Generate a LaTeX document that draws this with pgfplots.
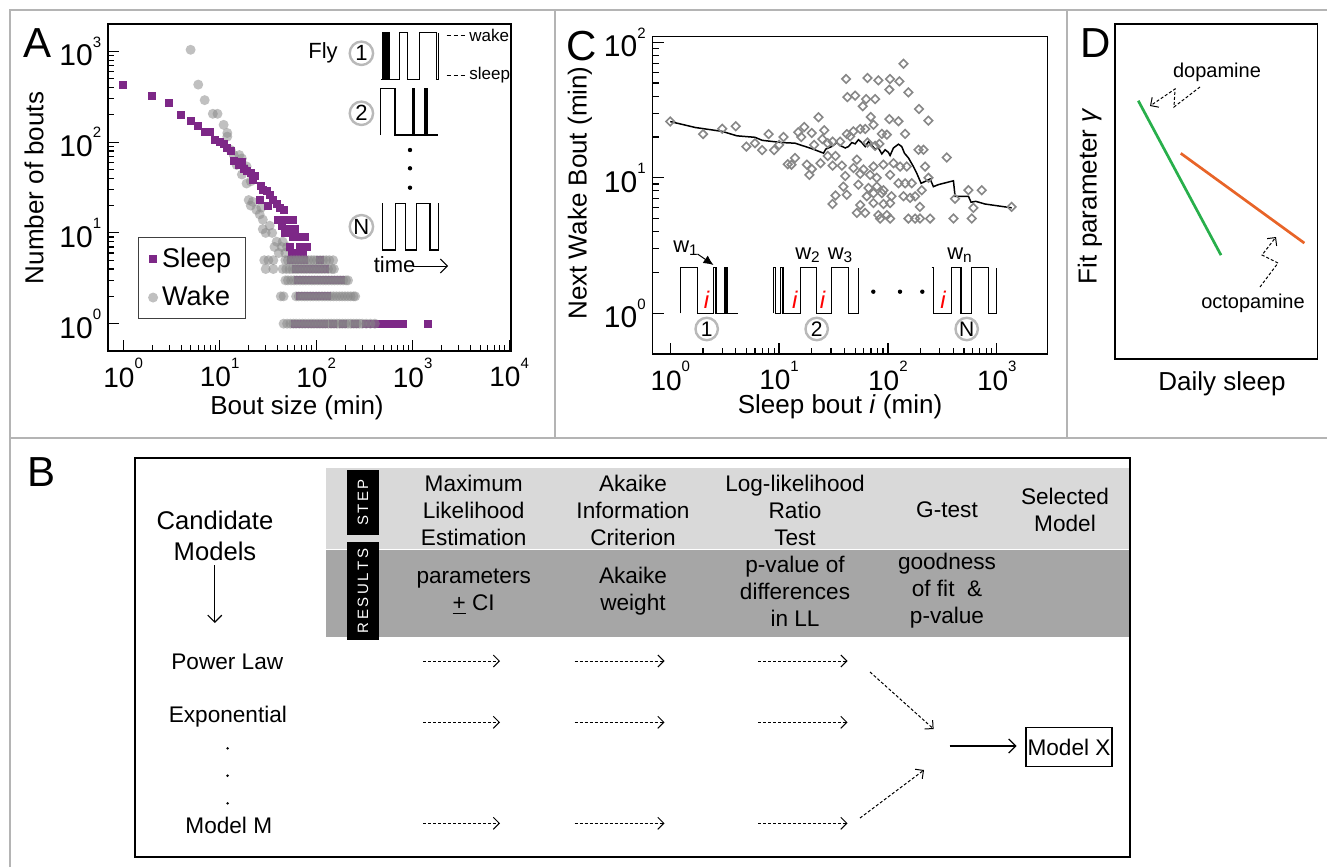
\documentclass[border=0pt]{standalone}
\usepackage{fontspec}
\setmainfont{Liberation Sans}
\usepackage{pgfplots}
\pgfplotsset{compat=1.18}
\usetikzlibrary{arrows.meta}

\definecolor{sleepc}{RGB}{125,40,135}
\definecolor{wakec}{RGB}{135,135,135}
\definecolor{diam}{RGB}{135,135,135}
\definecolor{framec}{RGB}{180,180,180}
\definecolor{ring}{RGB}{185,185,185}
\definecolor{bandL}{RGB}{217,217,217}
\definecolor{bandD}{RGB}{166,166,166}
\definecolor{dopa}{RGB}{40,175,75}
\definecolor{octo}{RGB}{232,100,40}

\newcommand{\fs}[1]{\fontsize{#1}{#1}\selectfont}
\newcommand{\tp}[1]{10\raisebox{9.3pt}{\fs{7.5}#1}}

\pgfplotsset{
  logpanel/.style={
    scale only axis, anchor=south west,
    axis line style={line width=0.7pt},
    tick align=inside, xtick pos=left, ytick pos=left,
    major tick length=5.5pt, minor tick length=3pt,
    tick style={black, line width=0.6pt},
    xticklabel style={font=\fs{14}},
    yticklabel style={font=\fs{15}},
  },
  wakeplot/.style={only marks, color=wakec, mark=*, mark size=2.5pt,
    mark options={draw opacity=0, fill=wakec, fill opacity=0.52}},
}

\tikzset{
  dar/.style={dash pattern=on 1.5pt off 1pt, line width=0.5pt, -{Straight Barb[length=3pt,width=6pt]}},
  trace/.style={line width=0.6pt, line join=miter},
}

\begin{document}
\begin{tikzpicture}
\useasboundingbox (0,0) rectangle (663.5pt,-433.5pt);

% ---------- panel A ----------
\begin{loglogaxis}[logpanel, at={(54.1pt,-175.5pt)}, width=201.3pt, height=163.5pt,
  xmin=0.7, xmax=10400, ymin=0.5, ymax=2000,
  xtick={1,10,100,1000,10000}, xticklabels={\tp{0},\tp{1},\tp{2},\tp{3},\tp{4}},
  ytick={1,10,100,1000}, yticklabels={\tp{0},\tp{1},\tp{2},\tp{3}},
  legend style={at={(0.073,0.348)}, anchor=north west, font=\fs{13.5},
    draw=black!75, line width=0.5pt, inner xsep=5pt, inner ysep=3pt, row sep=4pt},
  legend cell align=left,
]
% wake, upper part (under the sleep squares)
\addplot[wakeplot, forget plot] coordinates {
 (5,1040) (6,430) (7,290) (8.5,205) (9.5,205) (11,155) (12,126) (12,115) (13,82) (14,72)
 (16,72) (15,56) (17,66) (19,54) (17,44) (18,52) (21,37) (19,35) (20,23) (22,22)
 (21,20) (24,18) (26,16) (27,19) (28,11) (30,10) (28,14) (35,10) (33,12) (39,8)
 (37,7) (44,7) (41,6) (45,8) (48,6) (50,7)
};
\addplot[only marks, color=sleepc, mark=square*, mark size=2pt, mark options={draw opacity=0, fill=sleepc}] coordinates {
 (1,430) (2,320) (3,270) (4,200) (5,170) (6,150) (7,130) (8,128) (9,105) (10,101)
 (11,95) (12,86) (13,80) (14,62) (16,56) (17,60) (18,50) (19,48) (21,46) (22,38)
 (23,42) (26,23) (27,33) (28,30) (31,29) (32,20) (33,26) (36,23) (39,21) (40,14)
 (42,19) (44,12) (46,18) (47,14) (47,10) (51,11) (53,7) (56,6) (58,14) (58,9)
 (60,11) (63,6) (65,9) (68,7) (73,6) (76,9) (80,7)
 (55,5) (58,5) (62,5) (66,5) (70,5) (75,5) (109,5)
 (62,4) (66,4) (70,4) (75,4) (80,4) (86,4) (95,4) (105,4) (115,4) (123,4)
 (65,3) (70,3) (78,3) (85,3) (95,3) (105,3) (115,3) (130,3) (150,3) (181,3)
 (68,2) (75,2) (85,2) (95,2) (110,2) (130,2)
 (60,1) (66,1) (74,1) (80,1) (88,1) (100,1) (120,1) (150,1) (190,1) (250,1)
 (330,1) (390,1) (445,1) (540,1) (600,1) (680,1) (800,1) (1450,1)
};
\addlegendentry{Sleep}
\addplot[wakeplot] coordinates {
 (29,5) (32,5) (36,5) (48,5) (51,5) (55,5) (59,5) (63,5) (67,5) (72,5) (77,5) (83,5)
 (89,5) (95,5) (102,5) (110,5) (118,5) (127,5) (137,5) (150,5)
 (30,4) (36,4) (45,4) (49,4) (53,4) (57,4) (61,4) (65,4) (70,4) (75,4) (80,4) (86,4)
 (92,4) (99,4) (106,4) (114,4) (123,4) (133,4) (145,4) (153,4)
 (48,3) (51,3) (55,3) (59,3) (63,3) (68,3) (73,3) (78,3) (84,3) (90,3) (96,3) (103,3)
 (110,3) (118,3) (126,3) (135,3) (145,3) (155,3) (166,3) (178,3) (191,3) (204,3) (214,3)
 (43,2) (46,2) (62,2) (66,2) (71,2) (76,2) (81,2) (87,2) (93,2) (100,2) (107,2) (115,2)
 (123,2) (132,2) (141,2) (151,2) (162,2) (174,2) (186,2) (199,2) (213,2) (228,2) (244,2) (254,2)
 (46,1) (50,1) (54,1) (58,1) (62,1) (67,1) (72,1) (77,1) (83,1) (89,1) (95,1) (102,1)
 (109,1) (117,1) (125,1) (134,1) (143,1) (153,1) (164,1) (175,1) (187,1) (200,1) (214,1)
 (229,1) (245,1) (262,1) (280,1) (300,1) (330,1) (365,1) (406,1)
};
\addlegendentry{Wake}
\end{loglogaxis}

% ---------- panel C ----------
\begin{loglogaxis}[logpanel, at={(326.35pt,-177pt)}, width=197.5pt, height=158.65pt,
  xmin=0.69, xmax=2940, ymin=0.5, ymax=110,
  xtick={1,10,100,1000}, xticklabels={\tp{0},\tp{1},\tp{2},\tp{3}},
  ytick={1,10,100}, yticklabels={\tp{0},\tp{1},\tp{2}},
]
\addplot[only marks, color=diam, mark=square, mark size=1.5pt, mark options={draw=diam, line width=0.8pt, rotate=45}] coordinates {
 (1,26) (2,21) (3,23) (4,24) (5,17) (6,18) (7,16) (8,21) (9,16) (11,20)
 (10,17.5) (12,12.6) (13,12.5) (14,14) (15,21.7) (16,20) (17,23.7) (18,12.5) (19,10.5) (20,21.4)
 (21,17.5) (20,11.6) (23,28) (24,12.8) (26,22.4) (25,19.3) (28,18) (28,14.5) (31,12.3) (31,18.5)
 (33,14.5) (33,7.4) (31,6.4) (42,21)
 (139,69.5) (41.3,53.6) (64.9,54.5) (81.8,52.4) (104.7,53.6) (127.6,51.5) (103,44.7) (154.3,42.7)
 (42.5,39.4) (50,40.4) (63.1,38.1) (76.3,38.1) (58.8,33.7) (193,32.2) (69.7,28.1) (103,27.1)
 (125,26.1) (235.5,26.4) (73.7,24.6) (48.2,22) (55.6,22.9) (61.8,22.9) (87.9,21.1) (97.7,20.8)
 (143.9,21.1) (45,20.2) (36.4,18.5) (64.9,18.2) (83.6,17.8) (76.3,17.2) (190.7,16.1) (212,16.1)
 (347.5,14.1) (51.8,13.6) (37.7,12.3) (48.2,11.8) (59.6,11.5) (73.7,12.1) (91,12.5) (112.4,12.8)
 (129.4,12.1) (149,12.1) (219.5,12.1) (40.5,10.3) (55.6,10.7) (68.7,10.5) (79.1,10) (104.7,10.5)
 (235.5,10) (39,8.6) (53.6,8.9) (66.3,8.4) (79.1,8.6) (91,8.1) (125,9.1) (143.9,9.1)
 (165.6,9.1) (41.9,7.5) (64,7.3) (73.7,7.7) (87.9,7.7) (108,7.3) (139,7.3) (160,7.1)
 (177.8,7.3) (204.5,8.1) (549.5,8.1) (727.8,8.1) (414,7) (55.6,6.3) (73.7,6.5) (91,6.4)
 (104.7,6.5) (197,6.1) (610,6) (1371,6.1) (51.8,5.5) (61.8,5.5) (81.8,5.3) (97.7,5.3)
 (154.3,5) (177.8,5) (197,5) (244,5) (400,5) (589,5) (84.8,5) (104.7,5)
};
\addplot[black, line width=0.75pt] coordinates {
 (1,26) (1.7,23.5) (3,22) (4.1,20.4) (6,19.9) (7,18.9) (10.6,18.2) (14,18) (20,16.4)
 (25.6,15.2) (26.9,16.3) (30.5,17) (33.9,18.2) (36.4,17.3) (40.5,16.6) (43.4,17) (46.6,18.2)
 (50,17.8) (53.6,19.1) (57.5,18.2) (61.8,17) (66.3,18.5) (71.1,17.3) (76.3,16.3) (81.8,16.6)
 (87.9,15) (94.3,16.1) (101,15.4) (104.7,14.6) (112.4,16.6) (125,17.7) (134,17) (141.8,15.2)
 (154.5,14) (171.5,12.1) (184,10.8) (201.8,9.1) (219.8,9.4) (244.3,9.8) (261.8,8.6) (291,8.9)
 (323.6,9.1) (400,9.5) (414,7.3) (460,7.3) (549.5,7.3) (580.8,6.6) (641,6.7) (781,6.4) (1371,6.0)
};
\end{loglogaxis}

% ---------- panel D ----------
\begin{axis}[scale only axis, anchor=south west, at={(557.5pt,-179.5pt)}, width=101.15pt, height=167.5pt,
  xmin=0, xmax=1, ymin=0, ymax=1, xtick=\empty, ytick=\empty,
  axis line style={line width=0.7pt}]
\addplot[dopa, line width=1.35pt] coordinates {(0.115,0.771) (0.524,0.310)};
\addplot[octo, line width=1.35pt] coordinates {(0.325,0.614) (0.936,0.346)};
\end{axis}

\begin{scope}[x=0.5pt,y=-0.5pt]
% frame lines
\draw[framec, line width=1pt] (10,867) -- (10,10) -- (1327,10);
\draw[framec, line width=1pt] (555,10) -- (555,438);
\draw[framec, line width=1pt] (1067,10) -- (1067,438);
\draw[framec, line width=1pt] (10,438) -- (1327,438);

% panel letters
\node[font=\fs{21}] at (37.5,43) {A};
\node[font=\fs{21}] at (581.7,46) {C};
\node[font=\fs{21}] at (1096,43) {D};
\node[font=\fs{21}] at (42,472) {B};

% axis labels
\node[rotate=90, font=\fs{13}] at (34,188) {Number of bouts};
\node[font=\fs{13}] at (297,408) {Bout size (min)};
\node[rotate=90, font=\fs{13}] at (580,193) {Next Wake Bout (min)};
\node[font=\fs{13}] at (840,407) {Sleep bout \textit{i} (min)};
\node[rotate=90, font=\fs{13}] at (1090,196) {Fit parameter \textit{γ}};
\node[font=\fs{13}] at (1222,384) {Daily sleep};

% panel D notes
\node[font=\fs{10}] at (1217,72) {dopamine};
\node[font=\fs{10}] at (1253,303) {octopamine};
\draw[dar] (1200,87) -- (1174,107) -- (1175,89) -- (1150,106);
\draw[dar] (1260,287) -- (1278,263) -- (1262,255) -- (1276,237);

% panel A inset
\node[font=\fs{11}] at (323,53.3) {Fly};
\foreach \yy/\lab in {53.3/1, 113.3/2, 226.7/N} {
  \draw[ring, line width=1.2pt] (361.4,\yy) circle[radius=11.7];
  \node[font=\fs{11}] at (361.4,\yy) {\lab};
}
\draw[trace] (381,79.3) -- (382.5,79.3) -- (382.5,32.7) -- (383.7,32.7) -- (383.7,79.3) -- (385,79.3) -- (385,32.7) -- (386.2,32.7) -- (386.2,79.3) -- (388,79.3) -- (388,32.7) -- (389.2,32.7) -- (389.2,79.3) -- (399.3,79.3) -- (399.3,32.7) -- (407.1,32.7) -- (407.1,79.3) -- (419.6,79.3) -- (419.6,32.7) -- (436.4,32.7) -- (436.4,79.3) -- (438.3,79.3) -- (438.3,32.7);
\draw[trace] (380.7,135) -- (380.7,88.3) -- (395,88.3) -- (395,135) -- (413,135) -- (413,88.3) -- (414.3,88.3) -- (414.3,135) -- (425,135) -- (425,88.3) -- (427,88.3) -- (427,135) -- (438.3,135);
\draw[trace] (382.7,203.3) -- (382.7,250) -- (395.7,250) -- (395.7,203.3) -- (405.7,203.3) -- (405.7,250) -- (416.7,250) -- (416.7,203.3) -- (430,203.3) -- (430,250) -- (438.3,250) -- (438.3,203.3);
\draw[dash pattern=on 2pt off 1.5pt, line width=0.5pt] (446.7,35) -- (467,35);
\node[font=\fs{8.5}, anchor=west, inner sep=1pt] at (467,35) {wake};
\draw[dash pattern=on 2pt off 1.5pt, line width=0.5pt] (446.7,75) -- (467,75);
\node[font=\fs{8.5}, anchor=west, inner sep=1pt] at (467,75) {sleep};
\foreach \yy in {150,168.3,187.7} \fill (410,\yy) circle[radius=2.2];
\node[font=\fs{11}] at (394.6,265) {time};
\draw[line width=0.5pt, -{Straight Barb[length=3.5pt,width=7pt]}] (413,266) -- (448,266);

% panel C inset
\draw[trace] (680.7,313.3) -- (680.7,267.7) -- (697.5,267.7) -- (697.5,313.3) -- (713.5,313.3) -- (713.5,267.7) -- (716,267.7) -- (716,313.3) -- (725,313.3) -- (725,267.7) -- (727,267.7) -- (727,313.3) -- (738,313.3);
\draw[trace] (773.3,313.3) -- (773.3,267.7) -- (775.3,267.7) -- (775.3,313.3) -- (780.5,313.3) -- (780.5,267.7) -- (783,267.7) -- (783,313.3) -- (800.7,313.3) -- (800.7,267.7) -- (816.7,267.7) -- (816.7,313.3) -- (831.7,313.3) -- (831.7,267.7) -- (848.3,267.7) -- (848.3,313.3) -- (858.3,313.3) -- (858.3,267.7);
\draw[trace] (931.7,267.7) -- (933.3,267.7) -- (933.3,313.3) -- (951.7,313.3) -- (951.7,267.7) -- (961,267.7) -- (961,313.3) -- (971.7,313.3) -- (971.7,267.7) -- (988.3,267.7) -- (988.3,313.3) -- (996.7,313.3) -- (996.7,267.7);
\foreach \xx in {706.7,795,822.7,943.3} \node[font=\fs{12}, text=red] at (\xx,300) {\textit{i}};
\foreach \xx/\lab in {706.7/1, 816.7/2, 966.7/N} {
  \draw[ring, line width=1.2pt] (\xx,329) circle[radius=11.2];
  \node[font=\fs{10.5}] at (\xx,329) {\lab};
}
\node[font=\fs{11}] at (686,248) {w\textsubscript{1}};
\draw[line width=0.5pt, -{Latex[length=5pt,width=4.5pt]}] (697.5,254) -- (713.5,265);
\node[font=\fs{11}] at (808,255) {w\textsubscript{2}};
\node[font=\fs{11}] at (840.5,255) {w\textsubscript{3}};
\node[font=\fs{11}] at (960,255) {w\textsubscript{n}};
\foreach \xx in {873.3,900,922.3} \fill (\xx,291.7) circle[radius=2.2];

% ---------- panel B ----------
\draw[line width=0.7pt] (135,458) rectangle (1130,857);
\fill[bandL] (326,468) rectangle (1129,548.5);
\fill[bandD] (326,550) rectangle (1129,637);
\fill[black] (347,470) rectangle (379,535);
\fill[black] (347,542) rectangle (379,640);
\node[rotate=90, text=white, font=\fs{7.5}] at (363,502.5) {S\,T\,E\,P};
\node[rotate=90, text=white, font=\fs{7.5}] at (363,591) {R\,E\,S\,U\,L\,T\,S};
\begin{scope}[every node/.style={align=center, font=\fontsize{11.3}{13.5}\selectfont}]
\node at (473.7,510) {Maximum\\Likelihood\\Estimation};
\node at (633,510) {Akaike\\Information\\Criterion};
\node at (795,510) {Log-likelihood\\Ratio\\Test};
\node at (947,510) {G-test};
\node at (1065,510) {Selected\\Model};
\node at (473.7,591.5) {parameters\\\underline{+} CI};
\node at (633,591.5) {Akaike\\weight};
\node at (795,591) {p-value of\\differences\\in LL};
\node at (947,591) {goodness\\of fit \ \&\\p-value};
\node at (227.3,661.7) {Power Law};
\node at (227.9,716.7) {Exponential};
\node at (228.8,825) {Model M};
\end{scope}
\node[align=center, font=\fontsize{12.8}{15.5}\selectfont] at (215,535.5) {Candidate\\Models};
\draw[line width=0.6pt, -{Straight Barb[length=3.5pt,width=7pt]}] (214.8,565) -- (214.8,623);
\foreach \yy in {748.3,775.7,803.3} \fill (227.6,\yy) circle[radius=1.4];
\foreach \yy in {661,722.3,823.3} {
  \draw[dar] (423,\yy) -- (500,\yy);
  \draw[dar] (574.5,\yy) -- (664.5,\yy);
  \draw[dar] (758,\yy) -- (847.5,\yy);
}
\draw[dar] (870,672) -- (933.6,729);
\draw[dar] (860,818) -- (924,770);
\draw[line width=0.6pt, -{Straight Barb[length=3.5pt,width=7pt]}] (949.5,746) -- (1016.5,746);
\draw[line width=0.6pt] (1026,727.7) rectangle (1112,766.7);
\node[font=\fs{11.3}] at (1069,747.2) {Model X};
\end{scope}
\end{tikzpicture}
\end{document}
